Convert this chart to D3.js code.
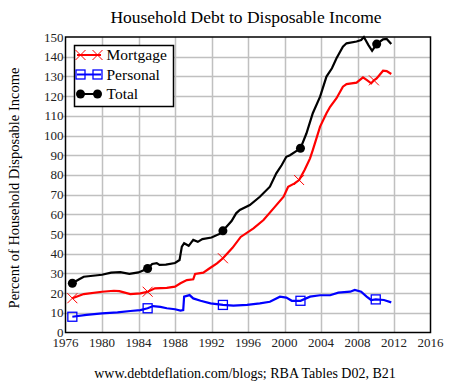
<!DOCTYPE html>
<meta charset="utf-8">
<style>
  body { margin: 0; background: #fff; }
  text { font-family: "Liberation Serif", "Times New Roman", serif; fill: #000; }
</style>
<script src="https://d3js.org/d3.v7.min.js"></script>
<div id="chart"></div>
<script>

// values, [year, percent]
var mortgage = [[1976.75,17.4],[1978,19.5],[1980,20.7],[1981.3,21.2],[1981.9,21],[1983.1,19.5],[1984.2,19.9],[1985,20.7],[1985.8,22.4],[1987.1,22.7],[1988,23.3],[1988.6,25],[1989.3,26.6],[1990,27],[1990.2,29.7],[1991.1,30.4],[1991.8,32.6],[1992.6,35.1],[1993.25,37.7],[1994.3,43],[1995.2,48.5],[1996.6,52.9],[1997.7,57.1],[1998.8,63],[1999.9,68.9],[2000.4,74],[2001.1,75.7],[2001.6,77.4],[2002.2,82.5],[2002.8,88.4],[2003.1,92.6],[2003.9,104.5],[2004.6,111.3],[2005,114.6],[2005.7,118.9],[2006.4,124.8],[2006.8,126.1],[2007.9,126.8],[2008.6,129.5],[2009,128.2],[2009.5,126.5],[2009.8,128],[2010.1,129],[2010.8,132.9],[2011.2,132.7],[2011.7,131.2]];

var personal = [[1976.75,8],[1978.3,8.9],[1980,9.7],[1981.7,10.2],[1983.1,10.9],[1984.2,11.4],[1985,12.3],[1985.6,13.4],[1986.4,13],[1987.1,12.3],[1988,11.8],[1988.6,11.1],[1988.9,11.4],[1989,18.2],[1989.6,19],[1990,17.3],[1990.8,16.1],[1991.9,14.8],[1993.25,14],[1994.4,13.6],[1995.9,14],[1997.3,14.8],[1998.4,15.6],[1999.5,18.2],[2000.2,17.7],[2000.8,16.1],[2001.75,16.1],[2002.8,18.2],[2003.9,18.9],[2005,18.9],[2005.9,20.2],[2007.2,20.7],[2007.7,21.6],[2008.4,20.7],[2009,18.2],[2009.5,16.5],[2010,16.8],[2010.9,16.5],[2011.7,15.3]];

var total = [[1976.75,25],[1977.5,27],[1978,28.3],[1979,28.8],[1980,29.3],[1981,30.4],[1982,30.6],[1983,29.8],[1984,30.5],[1985,32.5],[1985.5,34.8],[1986,35.2],[1986.3,34.3],[1987,34.5],[1988,35.3],[1988.5,36.8],[1988.75,43.6],[1989,45.3],[1989.5,44],[1990,47],[1990.5,46],[1991,47.4],[1992,48.2],[1993,50.3],[1993.25,51.6],[1994.2,56.6],[1994.7,60.5],[1995.1,62.2],[1996.2,64.7],[1997.3,68.9],[1998.4,74],[1999.1,80.8],[1999.7,85],[2000.2,89.2],[2000.6,90],[2001.75,93.5],[2002.4,101],[2003.1,111.3],[2003.9,119.7],[2004.6,129.9],[2005.2,134.1],[2005.7,139.2],[2006.4,145.1],[2006.8,146.8],[2007.9,147.7],[2008.4,148.5],[2008.7,150],[2009.2,145.9],[2009.6,143],[2010.1,146.4],[2010.8,148.8],[2011.2,149],[2011.7,146.4]];

var mortgageMarks = [1976.75, 1985, 1993.25, 2001.6, 2009.8];
var personalMarks = [1976.75, 1985, 1993.25, 2001.75, 2010];
var totalMarks    = [1976.75, 1985, 1993.25, 2001.75, 2010.1];

var xTicks = d3.range(1976, 2017, 4);
var yTicks = d3.range(0, 151, 10);
var names = ["Mortgage", "Personal", "Total"];

var width = 451, height = 385;
var plotL = 65.5, plotR = 430.5, plotT = 37, plotB = 332.5;

var svg = d3.select("#chart").append("svg")
  .attr("width", width).attr("height", height);

var x = d3.scaleLinear().domain([1976, 2016]).range([plotL, plotR]);
var y = d3.scaleLinear().domain([0, 150]).range([plotB, plotT]);

// grid
svg.append("g").selectAll("line").data(xTicks.slice(1, -1)).enter().append("line")
  .attr("x1", d => Math.round(x(d)) + 0.5).attr("x2", d => Math.round(x(d)) + 0.5)
  .attr("y1", plotT).attr("y2", plotB)
  .style("stroke", "#c0c0c0").style("stroke-width", 1.5);
svg.append("g").selectAll("line").data(yTicks.slice(1, -1)).enter().append("line")
  .attr("x1", plotL - 3).attr("x2", plotR)
  .attr("y1", d => Math.round(y(d)) + 0.5).attr("y2", d => Math.round(y(d)) + 0.5)
  .style("stroke", "#c0c0c0").style("stroke-width", 1.5);

// tick labels
svg.append("g").selectAll("text").data(yTicks).enter().append("text")
  .attr("x", plotL - 2).attr("y", d => y(d)).attr("dy", "0.35em")
  .attr("text-anchor", "end").style("font-size", "13px").style("fill", "#222")
  .text(d => d);
svg.append("g").selectAll("text").data(xTicks).enter().append("text")
  .attr("x", d => x(d)).attr("y", plotB + 14)
  .attr("text-anchor", "middle").style("font-size", "13px").style("fill", "#222")
  .text(d => d);

var line = d3.line().x(d => x(d[0])).y(d => y(d[1]));

var series = [
  { data: mortgage, marks: mortgageMarks, color: "#ff0000", shape: "cross" },
  { data: personal, marks: personalMarks, color: "#0000ff", shape: "square" },
  { data: total,    marks: totalMarks,    color: "#000000", shape: "dot" }
];

function marker(g, shape, color, cx, cy) {
  if (shape == "cross") {
    g.append("path")
      .attr("d", "M" + (cx-5) + "," + (cy-5) + "L" + (cx+5) + "," + (cy+5) +
                 "M" + (cx-5) + "," + (cy+5) + "L" + (cx+5) + "," + (cy-5))
      .style("stroke", color).style("stroke-width", 1).style("fill", "none");
  } else if (shape == "square") {
    g.append("rect").attr("x", cx - 4.5).attr("y", cy - 4.5)
      .attr("width", 9).attr("height", 9)
      .style("stroke", color).style("stroke-width", 1.3).style("fill", "none");
  } else {
    g.append("circle").attr("cx", cx).attr("cy", cy).attr("r", 4.5)
      .style("fill", color);
  }
}

series.forEach(function(s) {
  svg.append("path").datum(s.data)
    .attr("d", line)
    .style("fill", "none").style("stroke", s.color).style("stroke-width", 2.2);
  var g = svg.append("g");
  s.data.filter(d => s.marks.indexOf(d[0]) >= 0).forEach(function(d) {
    marker(g, s.shape, s.color, x(d[0]), y(d[1]));
  });
});

// frame
svg.append("rect").attr("x", plotL).attr("y", plotT)
  .attr("width", plotR - plotL).attr("height", plotB - plotT)
  .style("fill", "none").style("stroke", "#000").style("stroke-width", 1.5);

// legend
var lg = svg.append("g");
lg.append("rect").attr("x", 74.5).attr("y", 45.5).attr("width", 99).attr("height", 61)
  .style("fill", "#fff").style("stroke", "#000").style("stroke-width", 1.5);
series.forEach(function(s, i) {
  var ly = 55 + i * 19.5;
  lg.append("line").attr("x1", 77).attr("x2", 101).attr("y1", ly).attr("y2", ly)
    .style("stroke", s.color).style("stroke-width", 2);
  marker(lg, s.shape, s.color, 80.5, ly);
  marker(lg, s.shape, s.color, 97.5, ly);
  lg.append("text").attr("x", 106.5).attr("y", ly).attr("dy", "0.35em")
    .style("font-size", "15.5px").text(names[i]);
});

// titles
svg.append("text").attr("x", 246).attr("y", 23).attr("text-anchor", "middle")
  .style("font-size", "17.5px").text("Household Debt to Disposable Income");
svg.append("text").attr("transform", "translate(19,188) rotate(-90)")
  .attr("text-anchor", "middle").style("font-size", "14.5px")
  .text("Percent of Household Disposable Income");
svg.append("text").attr("x", 245).attr("y", 378).attr("text-anchor", "middle")
  .style("font-size", "14px").text("www.debtdeflation.com/blogs; RBA Tables D02, B21");

</script>
